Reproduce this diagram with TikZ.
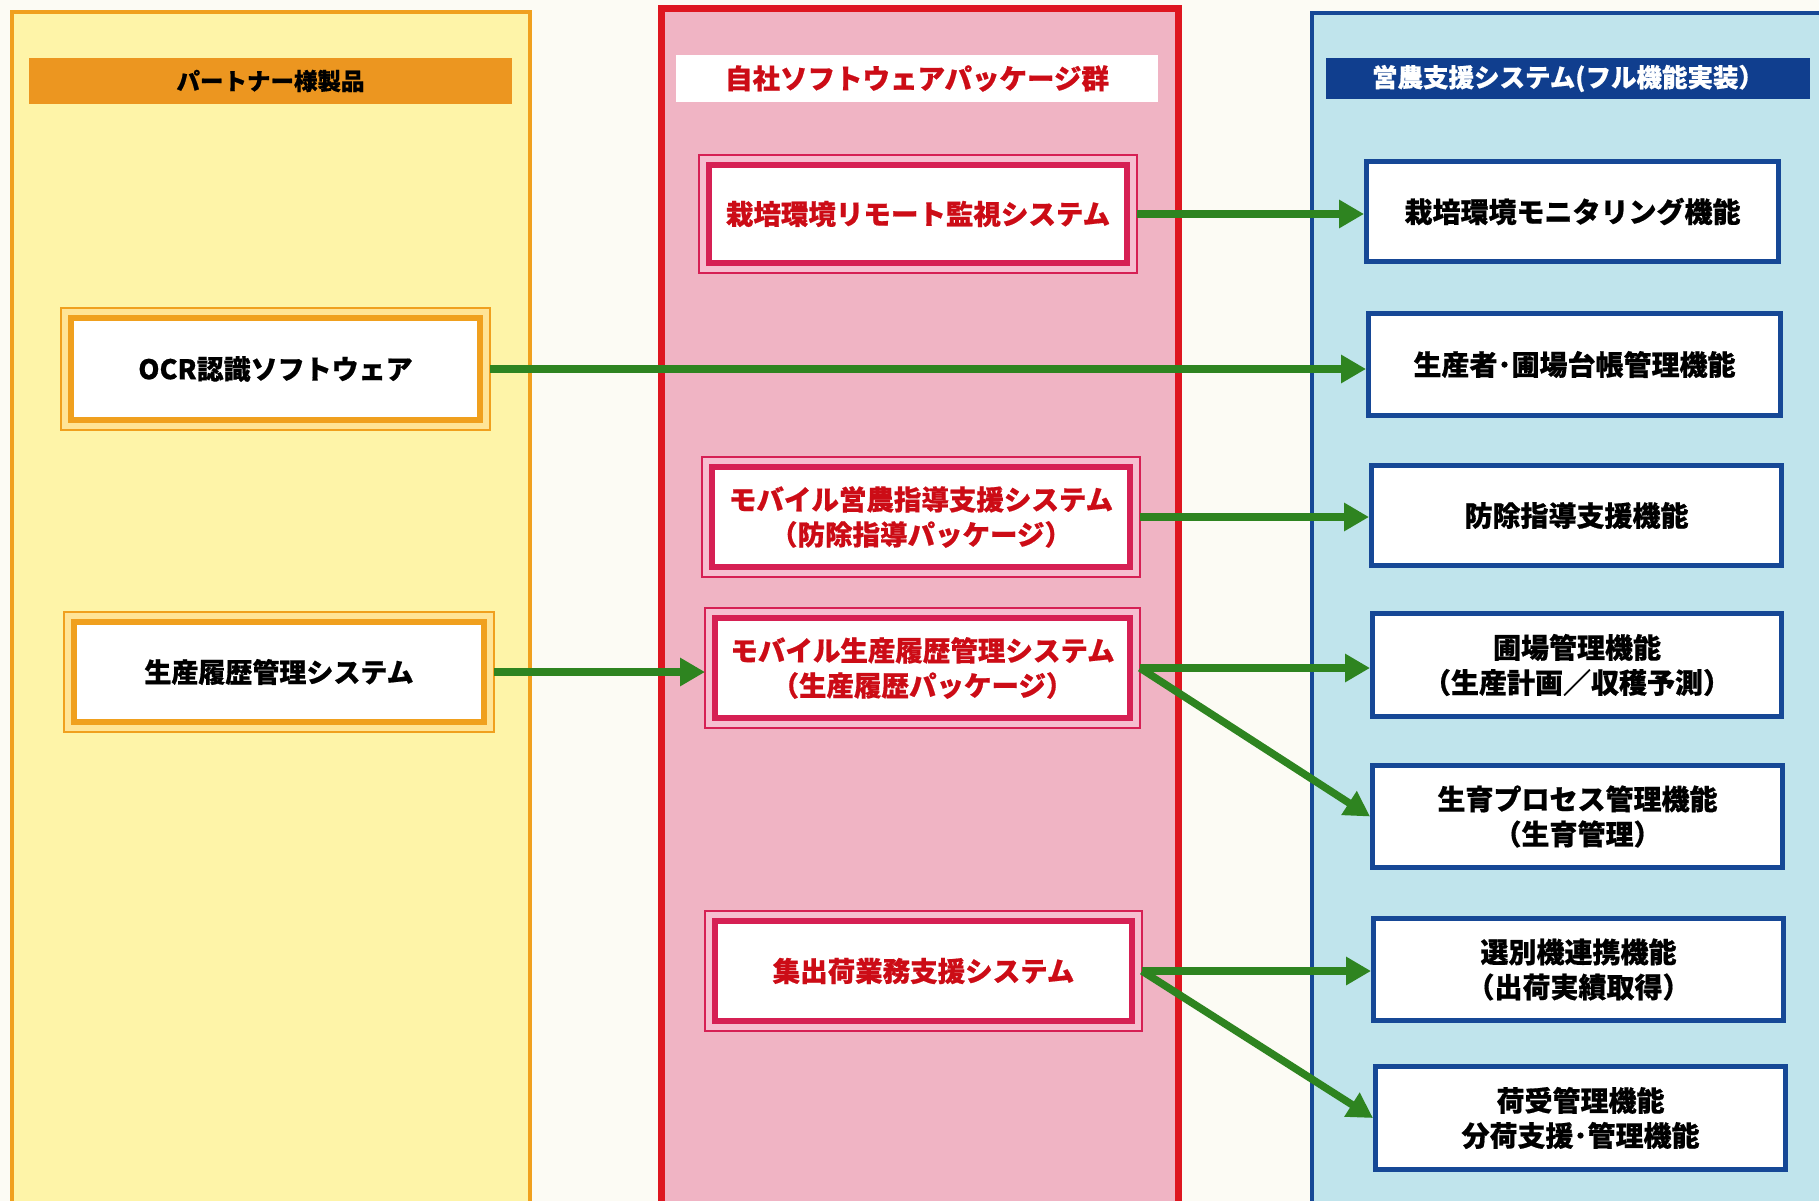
\documentclass[tikz,border=0pt]{standalone}
\usepackage{fontspec}
\setmainfont{Noto Sans CJK JP}[BoldFeatures={FakeBold=0.6}]
\usetikzlibrary{arrows.meta,calc}
\pgfdeclarelayer{bg}
\pgfdeclarelayer{mid}
\pgfsetlayers{bg,mid,main}
\definecolor{bgc}{RGB}{252,251,244}
\definecolor{yelfill}{RGB}{254,244,168}
\definecolor{orline}{RGB}{240,160,30}
\definecolor{orhead}{RGB}{236,150,32}
\definecolor{orgap}{RGB}{255,228,150}
\definecolor{pinkfill}{RGB}{240,180,196}
\definecolor{redline}{RGB}{222,22,32}
\definecolor{crim}{RGB}{214,32,84}
\definecolor{crimgap}{RGB}{246,190,208}
\definecolor{redtext}{RGB}{204,12,22}
\definecolor{bluefill}{RGB}{192,228,236}
\definecolor{blueline}{RGB}{22,72,150}
\definecolor{bluehead}{RGB}{16,62,142}
\definecolor{arrgreen}{RGB}{46,132,32}
\tikzset{
  panel/.style={line width=#1},
  txt/.style={font=\bfseries\fontsize{27}{35}\selectfont, align=center, inner sep=0pt},
  obox/.style={txt, draw=orline, fill=white, line width=6pt, minimum width=#1},
  pbox/.style={txt, font=\bfseries\fontsize{27.5}{35}\selectfont, draw=crim, fill=white, line width=6pt, text=redtext, minimum width=#1},
  bbox/.style={txt, font=\bfseries\fontsize{28}{35}\selectfont, draw=blueline, fill=white, line width=5pt},
  arr/.style={draw=arrgreen, line width=7.5pt, -{Triangle[length=25pt,width=27pt]}},
}
\begin{document}
\begin{tikzpicture}[x=1pt,y=-1pt]
\useasboundingbox (0,0) rectangle (1819,1201);
\begin{pgfonlayer}{bg}
\fill[bgc] (0,0) rectangle (1819,1201);
% panels
\draw[panel=3.5pt, draw=orline, fill=yelfill] (12,12) rectangle (530,1220);
\draw[panel=7pt, draw=redline, fill=pinkfill] (661,9) rectangle (1178,1220);
\draw[panel=4pt, draw=blueline, fill=bluefill] (1312,13) rectangle (1840,1220);
\end{pgfonlayer}
% headers
\node[fill=orhead, minimum width=483pt, minimum height=46pt, inner sep=0pt, font=\bfseries\fontsize{23.5}{26}\selectfont] (hy) at (270.5,81) {パートナー様製品};
\node[fill=white, minimum width=482pt, minimum height=47pt, inner sep=0pt, text=redtext, font=\bfseries\fontsize{27.5}{30}\selectfont] (hp) at (917,78.5) {自社ソフトウェアパッケージ群};
\node[fill=bluehead, minimum width=484pt, minimum height=41pt, inner sep=0pt, text=white, font=\bfseries\fontsize{25.5}{28}\selectfont] (hb) at (1568,78.5) {営農支援システム(フル機能実装）};
% left boxes
\node[obox=409pt, minimum height=102pt] (ocr) at (275.5,369) {OCR認識ソフトウェア};
\node[obox=410pt, minimum height=100pt] (hist) at (279,672) {生産履歴管理システム};
% middle boxes
\node[pbox=418pt, minimum height=98pt] (p1) at (918,214) {栽培環境リモート監視システム};
\node[pbox=418pt, minimum height=100pt] (p2) at (921,517) {モバイル営農指導支援システム\\（防除指導パッケージ）};
\node[pbox=415pt, minimum height=100pt] (p3) at (922.5,668) {モバイル生産履歴管理システム\\（生産履歴パッケージ）};
\node[pbox=417pt, minimum height=100pt] (p4) at (923.5,971) {集出荷業務支援システム};
% outer thin lines
\begin{pgfonlayer}{mid}
\foreach \n in {ocr,hist} \draw[orline, line width=1.4pt, fill=orgap] ([shift={(-7pt,-7pt)}]\n.south west) rectangle ([shift={(7pt,7pt)}]\n.north east);
\foreach \n in {p1,p2,p3,p4} \draw[crim, line width=1.4pt, fill=crimgap] ([shift={(-7pt,-7pt)}]\n.south west) rectangle ([shift={(7pt,7pt)}]\n.north east);
\end{pgfonlayer}
% right boxes
\node[bbox, minimum width=412pt, minimum height=100pt] (r1) at (1572.5,211.5) {栽培環境モニタリング機能};
\node[bbox, minimum width=412pt, minimum height=102pt] (r2) at (1574.5,364.5) {生産者･圃場台帳管理機能};
\node[bbox, minimum width=410pt, minimum height=100pt] (r3) at (1576.5,515.5) {防除指導支援機能};
\node[bbox, minimum width=409pt, minimum height=103pt] (r4) at (1577,665) {圃場管理機能\\（生産計画／収穫予測）};
\node[bbox, minimum width=410pt, minimum height=102pt] (r5) at (1577.5,816.5) {生育プロセス管理機能\\（生育管理）};
\node[bbox, minimum width=410pt, minimum height=102pt] (r6) at (1578.5,969.5) {選別機連携機能\\（出荷実績取得）};
\node[bbox, minimum width=410pt, minimum height=103pt] (r7) at (1580.5,1118) {荷受管理機能\\分荷支援･管理機能};
% arrows
\draw[arr] ([xshift=7pt]p1.east) -- (r1.west |- p1.east);
\draw[arr] ([xshift=7pt]ocr.east) -- (r2.west |- ocr.east);
\draw[arr] ([xshift=7pt]p2.east) -- (r3.west |- p2.east);
\draw[arr] ([xshift=7pt]hist.east) -- ([xshift=-7pt]p3.west |- hist.east);
\draw[arr] ([xshift=7pt]p3.east) -- (r4.west |- p3.east);
\draw[arr] ([xshift=7pt]p3.east) -- (r5.west);
\draw[arr] ([xshift=7pt]p4.east) -- (r6.west |- p4.east);
\draw[arr] ([xshift=7pt]p4.east) -- (r7.west);
\end{tikzpicture}
\end{document}
